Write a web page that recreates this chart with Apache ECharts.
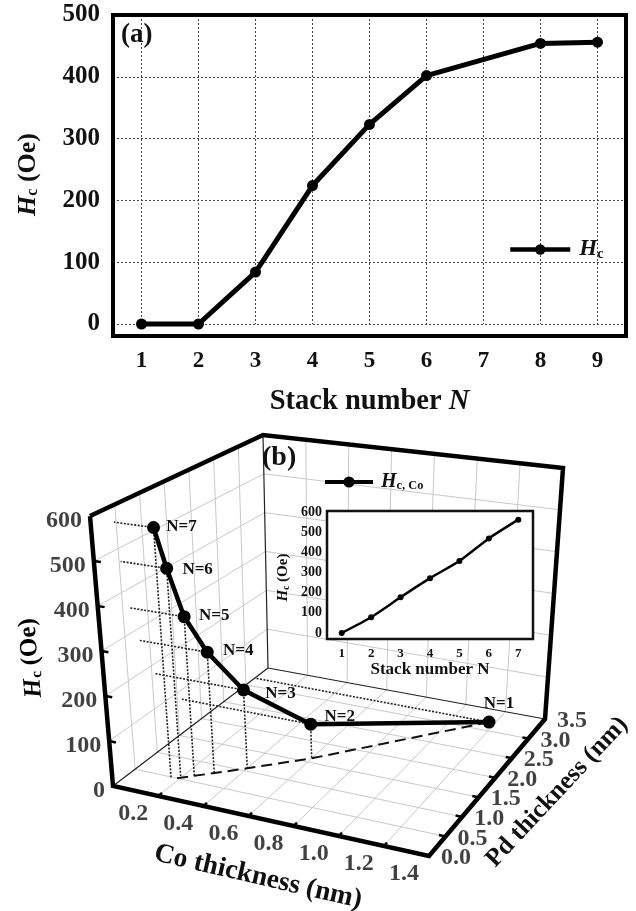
<!DOCTYPE html>
<html><head><meta charset="utf-8">
<style>html,body{margin:0;padding:0;background:#fff}#c{width:636px;height:911px}</style>
<script src="https://cdn.jsdelivr.net/npm/echarts@6/dist/echarts.min.js"></script>
</head><body><div id="c"></div>
<script>
// ---- data (a)
const stackCatsA = ['1','2','3','4','5','6','7','8','9'];
const hcA = [0,0,84,224,323,402,null,454,456];
const hcTicksA = [0,100,200,300,400,500];
// ---- data (b)
const stackN = ['N=1','N=2','N=3','N=4','N=5','N=6','N=7'];
const stackCatsB = ['1','2','3','4','5','6','7'];
const coNm = [1.17,0.6,0.4,0.3,0.24,0.2,0.17];
const pdNm = [3.2,1.6,1.07,0.8,0.64,0.53,0.46];
const hcCo = [0,78,177,272,357,469,562];
const coTicks = [0,0.2,0.4,0.6,0.8,1.0,1.2,1.4];
const pdTicks = [0,0.5,1.0,1.5,2.0,2.5,3.0,3.5];
const hcTicks = [0,100,200,300,400,500,600];

// ---- projection of the 3D box onto the page (trilinear between box corners)
const box = {co:1.4, pd:3.5, hc:600, corners:{
  '000':[113,786],'100':[429,856],'110':[545,719],'010':[268,668],
  '001':[90,516],'101':[420,560],'111':[563,468],'011':[263,435]}};
function project(co,pd,hc){
  const u=co/box.co,v=pd/box.pd,w=hc/box.hc,c=box.corners,out=[0,0];
  for(let i=0;i<2;i++){
    const f=(1-v)*((1-u)*c['000'][i]+u*c['100'][i])+v*((1-u)*c['010'][i]+u*c['110'][i]);
    const t=(1-v)*((1-u)*c['001'][i]+u*c['101'][i])+v*((1-u)*c['011'][i]+u*c['111'][i]);
    out[i]=f+(t-f)*w;
  }
  return out;
}
const gap=['-','-'];
function segs(list){const r=[];list.forEach(s=>{s.forEach(p=>r.push(project(p[0],p[1],p[2])));r.push(gap);});return r;}

const C=box.co,P=box.pd,H=box.hc;
const grayLines=[];
coTicks.slice(1,-1).forEach(c=>{grayLines.push([[c,0,0],[c,P,0]]);grayLines.push([[c,P,0],[c,P,H]]);});
pdTicks.slice(1,-1).forEach(p=>{grayLines.push([[0,p,0],[C,p,0]]);grayLines.push([[0,p,0],[0,p,H]]);});
hcTicks.slice(1,-1).forEach(h=>{grayLines.push([[0,0,h],[0,P,h]]);grayLines.push([[0,P,h],[C,P,h]]);});
const thinEdges=[[[0,P,0],[0,P,H]],[[0,0,0],[0,P,0]],[[0,P,0],[C,P,0]]];
const thickEdges=[[[0,0,H],[0,0,0],[C,0,0],[C,P,0],[C,P,H],[0,P,H],[0,0,H]]];
const tickMarks=[];
coTicks.slice(1,-1).forEach(c=>tickMarks.push([[c,0,0],[c,0.09,0]]));
pdTicks.slice(1,-1).forEach(p=>tickMarks.push([[C,p,0],[C-0.03,p,0]]));
hcTicks.slice(1,-1).forEach(h=>tickMarks.push([[0,0,h],[0.03,0,h]]));
const dropLines=[];
stackN.forEach((n,i)=>{
  dropLines.push([[coNm[i],pdNm[i],hcCo[i]],[coNm[i],pdNm[i],0]]);
  dropLines.push([[coNm[i],pdNm[i],hcCo[i]],[0,pdNm[i],hcCo[i]]]);
});
const floorPath=stackN.map((n,i)=>project(coNm[i],pdNm[i],0));
const mainPath=stackN.map((n,i)=>{
  const p=project(coNm[i],pdNm[i],hcCo[i]);return {value:p,name:n};
});

const serif='"Liberation Serif","Times New Roman",serif';
const labelNudge={'N=1':[10,-18],'N=2':[29,-8],'N=3':[37,4],'N=4':[31,-2],'N=5':[30,-1],'N=6':[31,1],'N=7':[28,-1]};
function lineSeries(name,data,lw,color,type,z){
  return {type:'line',name,xAxisIndex:0,yAxisIndex:0,data,showSymbol:false,symbol:'none',clip:false,silent:true,
    lineStyle:{width:lw,color,type:type||'solid',cap:'butt',join:'miter'},z:z,connectNulls:false,animation:false};
}
function tickLabels(items,align,off,size){
  return {type:'scatter',xAxisIndex:0,yAxisIndex:0,symbolSize:0,silent:true,clip:false,z:2,
    data:items,label:{show:true,position:'inside',formatter:'{b}',align,offset:off,
    fontFamily:serif,fontWeight:'bold',fontSize:size,color:'#111'}};
}
const rich=(s)=>({
  i:{fontFamily:serif,fontStyle:'italic',fontWeight:'bold',fontSize:s,color:'#111'},
  s:{fontFamily:serif,fontWeight:'bold',fontSize:s*0.62,color:'#111',verticalAlign:'bottom',padding:[s*0.38,0,0,0]},
  b:{fontFamily:serif,fontWeight:'bold',fontSize:s,color:'#111'}
});

const option={
  animation:false,backgroundColor:'#fff',
  textStyle:{fontFamily:serif},
  grid:[
    {left:0,top:0,width:636,height:911,show:false},                 // 0: page-space for 3D box
    {left:113,top:15,width:513,height:309,show:false,z:1},          // 1: panel a data
    {left:113,top:15,width:513,height:321,show:true,borderWidth:4,borderColor:'#000',backgroundColor:'transparent',z:1}, // 2: a frame
    {left:327,top:512,width:206,height:121,show:false,z:5},         // 3: inset data
    {left:327,top:511,width:206,height:128,show:true,borderWidth:2.5,borderColor:'#111',backgroundColor:'#fff',z:4} // 4: inset frame
  ],
  xAxis:[
    {gridIndex:0,type:'value',min:0,max:636,show:false},
    {gridIndex:1,type:'category',data:stackCatsA,offset:12,
      axisLine:{show:false},
      axisTick:{alignWithLabel:true,inside:true,length:6,lineStyle:{width:2,color:'#000'}},
      axisLabel:{fontFamily:serif,fontWeight:'bold',fontSize:23,color:'#111',margin:14},
      splitLine:{show:true,alignWithLabel:true,lineStyle:{type:[2,2],color:'#444',width:1}},
      name:'{b|Stack number }{i|N}',nameLocation:'middle',nameGap:51,nameTextStyle:{rich:rich(28.5)}},
    {gridIndex:3,type:'category',data:stackCatsB,offset:6,z:6,
      axisLine:{show:false},
      axisTick:{alignWithLabel:true,inside:true,length:3,lineStyle:{width:1.5,color:'#000'}},
      axisLabel:{fontFamily:serif,fontWeight:'bold',fontSize:13,color:'#111',margin:8},
      name:'{b|Stack number N}',nameLocation:'middle',nameGap:22,nameTextStyle:{rich:rich(17)}}
  ],
  yAxis:[
    {gridIndex:0,type:'value',min:0,max:911,inverse:true,show:false},
    {gridIndex:1,type:'value',min:hcTicksA[0],max:hcTicksA[hcTicksA.length-1],interval:100,
      axisLine:{show:false},axisTick:{show:false},
      axisLabel:{fontFamily:serif,fontWeight:'bold',fontSize:25,color:'#111',margin:13,padding:[4,0,0,0]},
      splitLine:{show:true,lineStyle:{type:[2,2],color:'#444',width:1}},
      name:'{i|H}{s|c}{b| (Oe)}',nameLocation:'middle',nameRotate:90,nameGap:72,
      nameTextStyle:{rich:rich(26),padding:[0,10,0,0]}},
    {gridIndex:3,type:'value',min:0,max:600,interval:100,z:6,
      axisLine:{show:false},axisTick:{show:false},splitLine:{show:false},
      axisLabel:{fontFamily:serif,fontWeight:'bold',fontSize:14,color:'#111',margin:5},
      name:'{i|H}{s|c}{b| (Oe)}',nameLocation:'middle',nameRotate:90,nameGap:36,
      nameTextStyle:{rich:rich(15),padding:[0,10,0,0]}}
  ],
  legend:[
    {left:503,top:233,data:['Hc'],itemWidth:60,itemHeight:13,itemGap:0,lineStyle:{width:4.5},
      formatter:()=>'{i|H}{s|c}',textStyle:{rich:rich(23),padding:[0,0,0,4]},selectedMode:false},
    {left:318,top:467,data:['HcCo'],itemWidth:48,itemHeight:14,itemGap:0,lineStyle:{width:4},
      formatter:()=>'{i|H}{s|c, Co}',textStyle:{rich:rich(20),padding:[0,0,0,3]},selectedMode:false}
  ],
  graphic:[
    {type:'text',x:121,y:22,silent:true,style:{text:'(a)',font:'bold 27px '+serif,fill:'#111'}},
    {type:'text',x:262,y:444,silent:true,z:10,style:{text:'(b)',font:'bold 28px '+serif,fill:'#111'}},
    {type:'text',x:258,y:877,rotation:-13*Math.PI/180,silent:true,style:{text:'Co thickness (nm)',align:'center',verticalAlign:'middle',font:'bold 27.5px '+serif,fill:'#111'}},
    {type:'text',x:557,y:792,rotation:47*Math.PI/180,silent:true,style:{text:'Pd thickness (nm)',align:'center',verticalAlign:'middle',font:'bold 25.5px '+serif,fill:'#111'}},
    {type:'text',x:31,y:658,rotation:95*Math.PI/180,silent:true,style:{text:'{i|H}{s|c}{b| (Oe)}',align:'center',verticalAlign:'middle',rich:rich(25)}}
  ],
  series:[
    lineSeries('grid3d',segs(grayLines),1,'#c9c9c9','solid',1),
    lineSeries('thin',segs(thinEdges),1.2,'#222','solid',2),
    lineSeries('ticks',segs(tickMarks),2.5,'#000','solid',2),
    lineSeries('thick',segs(thickEdges),4.5,'#000','solid',3),
    lineSeries('drops',segs(dropLines),1.6,'#222',[2,1.5],3),
    lineSeries('floor',floorPath,2,'#111',[11,6],3),
    tickLabels(coTicks.slice(1).map(c=>({value:project(c,0,0),name:c.toFixed(1)})),'center',[-25,18],24),
    tickLabels(pdTicks.map(p=>({value:project(C,p,0),name:p.toFixed(1)})),'center',[27,2],24),
    tickLabels(hcTicks.map(h=>({value:project(0,0,h),name:String(h)})),'right',[-8,5],24),
    {type:'line',name:'HcCo',xAxisIndex:0,yAxisIndex:0,clip:false,z:3,silent:true,
      symbol:'circle',symbolSize:13,showSymbol:true,
      lineStyle:{width:4.5,color:'#000'},itemStyle:{color:'#000'},
      label:{show:true,position:'inside',formatter:'{b}',fontFamily:serif,fontWeight:'bold',fontSize:17,color:'#111'},
      data:mainPath.map(d=>({value:d.value,name:d.name,label:{offset:labelNudge[d.name]}}))},
    {type:'line',name:'Hc',xAxisIndex:1,yAxisIndex:1,data:hcA,connectNulls:true,z:3,clip:false,silent:true,
      symbol:'circle',symbolSize:11,lineStyle:{width:5,color:'#000'},itemStyle:{color:'#000'}},
    {type:'line',name:'inset',xAxisIndex:2,yAxisIndex:2,data:hcCo,z:7,clip:false,silent:true,smooth:0.2,
      symbol:'circle',symbolSize:6,lineStyle:{width:2.5,color:'#000'},itemStyle:{color:'#000'}}
  ]
};
const chart=echarts.init(document.getElementById('c'),null,{renderer:'canvas',width:636,height:911});
chart.setOption(option);
</script></body></html>
